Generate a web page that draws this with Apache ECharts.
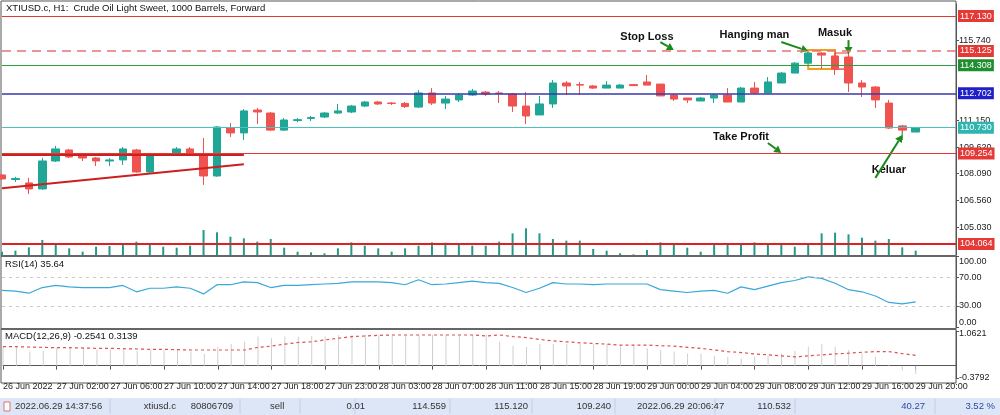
<!DOCTYPE html>
<html><head><meta charset="utf-8">
<script src="https://cdn.jsdelivr.net/npm/echarts@6/dist/echarts.min.js"></script>
<style>html,body{margin:0;padding:0;background:#fff}#c{width:1000px;height:415px}</style>
</head><body><div id="c"></div>
<script>
const tickLabels=['26 Jun 2022','27 Jun 02:00','27 Jun 06:00','27 Jun 10:00','27 Jun 14:00','27 Jun 18:00','27 Jun 23:00','28 Jun 03:00','28 Jun 07:00','28 Jun 11:00','28 Jun 15:00','28 Jun 19:00','29 Jun 00:00','29 Jun 04:00','29 Jun 08:00','29 Jun 12:00','29 Jun 16:00','29 Jun 20:00'];
const opens=[108.02,107.76,107.56,107.22,108.82,109.45,109.11,108.99,108.82,108.88,109.45,108.19,109.25,109.22,109.51,109.17,107.96,110.71,110.43,111.74,111.57,110.59,111.14,111.26,111.34,111.57,111.63,111.97,112.20,112.14,112.12,111.91,112.72,112.14,112.32,112.60,112.77,112.72,112.66,111.97,111.46,112.09,113.29,113.20,113.12,113.00,113.00,113.20,113.35,113.23,112.60,112.43,112.26,112.43,112.60,112.20,113.00,112.72,113.29,113.86,114.43,115.01,114.84,114.78,113.29,113.06,112.14,110.83,110.48];
const closes=[107.79,107.82,107.22,108.82,109.51,109.05,108.99,108.82,108.88,109.51,108.19,109.11,109.19,109.51,109.17,107.96,110.77,110.43,111.69,111.63,110.59,111.17,111.19,111.31,111.57,111.69,111.97,112.20,112.09,112.12,111.94,112.72,112.14,112.37,112.60,112.83,112.66,112.69,111.97,111.40,112.09,113.29,113.12,113.17,113.00,113.17,113.17,113.14,113.17,112.55,112.37,112.32,112.43,112.60,112.20,113.00,112.72,113.35,113.86,114.43,115.01,114.89,114.09,113.29,113.06,112.32,110.71,110.59,110.71];
const lows=[107.73,107.62,106.93,107.16,108.76,108.99,108.82,108.53,108.53,108.59,108.14,108.14,109.17,109.17,109.11,107.45,107.91,110.20,110.02,110.94,110.54,110.54,111.05,111.11,111.28,111.51,111.57,111.91,112.03,112.03,111.86,111.86,112.03,111.80,112.20,112.55,112.55,112.14,111.63,110.94,111.46,111.86,112.60,112.60,112.95,113.00,113.00,113.12,113.17,112.55,112.26,112.14,112.26,112.14,112.20,112.20,112.66,112.72,113.29,113.86,114.43,114.09,113.75,112.77,112.49,111.86,110.65,110.48,110.48];
const highs=[108.07,107.91,107.85,109.00,109.68,109.51,109.17,109.05,108.99,109.62,109.51,109.17,109.28,109.62,109.62,110.14,110.83,111.00,111.80,111.86,111.63,111.28,111.28,111.40,111.63,112.09,112.03,112.26,112.26,112.20,112.20,112.89,113.00,112.55,112.72,112.95,112.83,112.83,112.72,112.77,112.55,113.46,113.40,113.35,113.17,113.40,113.23,113.23,113.75,113.23,112.66,112.43,112.49,112.66,113.00,113.06,113.35,113.63,113.92,114.49,115.06,115.06,114.89,114.95,113.46,113.12,112.32,110.89,110.77];
const volumes=[10,13,23,45,30,20,10,25,27,35,40,30,25,22,28,75,68,55,50,40,48,22,10,8,5,20,38,28,20,10,20,28,38,37,30,28,28,40,65,80,65,48,43,43,18,13,5,2,15,38,30,22,10,30,35,35,38,30,30,25,35,65,67,62,52,43,48,23,13];
const rsi=[52,51,48,56,59,57,56,56,56,59,50,55,55,57,55,47,60,60,64,63,56,59,59,60,61,62,64,64,64,63,60,67,60,61,63,65,63,62,56,49,55,63,61,61,60,61,61,61,61,53,51,49,51,52,48,57,53,58,63,66,71,69,62,53,50,44,35,33,35.64];
const macdHist=[0.58,0.58,0.43,0.46,0.53,0.56,0.53,0.50,0.50,0.50,0.46,0.48,0.48,0.48,0.43,0.36,0.58,0.66,0.73,0.89,0.84,0.89,0.89,0.91,0.89,0.94,0.95,0.95,0.95,0.95,0.95,0.95,0.95,0.95,0.95,0.95,0.95,0.73,0.61,0.58,0.66,0.66,0.66,0.66,0.66,0.66,0.63,0.63,0.53,0.48,0.43,0.37,0.36,0.30,0.27,0.22,0.27,0.32,0.37,0.45,0.58,0.66,0.58,0.48,0.37,0.27,0.03,-0.15,-0.2541];
const macdSignal=[0.58,0.58,0.57,0.56,0.55,0.55,0.54,0.53,0.53,0.52,0.51,0.50,0.50,0.49,0.48,0.48,0.48,0.48,0.48,0.56,0.60,0.66,0.71,0.73,0.79,0.84,0.89,0.91,0.93,0.94,0.94,0.94,0.94,0.94,0.94,0.94,0.91,0.94,0.89,0.86,0.80,0.76,0.73,0.70,0.68,0.66,0.63,0.63,0.63,0.61,0.60,0.56,0.53,0.48,0.43,0.40,0.36,0.33,0.30,0.27,0.30,0.33,0.36,0.38,0.41,0.43,0.43,0.37,0.3139];
const priceTicks=[115.740,111.150,109.620,108.090,106.560,105.030];
const levels=[[117.130,'#e53935','solid',1],[115.125,'#e57373','dashed',1.5],[114.308,'#2e9e3e','solid',1],[112.702,'#3939b0','solid',1.5],[110.730,'#4cc2c0','solid',1],[109.254,'#e53935','solid',1],[104.064,'#e02020','solid',2]];
const labelBg={'117.130':'#e53935','115.125':'#e53935','114.308':'#1e8e2e','112.702':'#2020c8','110.730':'#2fb5b0','109.254':'#e53935','104.064':'#e53935'};
const trendLine=[[0,107.25],[18,108.63]];
const flatLine=[[0,109.17],[18,109.17]];
const notes=[['Stop Loss',48.1,115.93],['Hanging man',55.8,116.04],['Masuk',61.5,116.16],['Take Profit',55.1,110.20],['Keluar',65.9,108.30]];
const arrows=[[49.2,115.64,49.9,115.18],[58.1,115.64,60.0,115.12],[62.95,115.75,62.95,114.95],[57.1,109.85,58.0,109.28],[64.8,107.85,66.8,110.31]];
const boxes=[[60.0,115.18,62.05,114.09,'#f0a020'],[62.4,115.01,63.3,114.09,'#e53935'],[66.6,110.83,67.4,110.02,'#2e9e3e']];
const statusTexts=[['2022.06.29 14:37:56',15,'left','#333'],['xtiusd.c',176,'right','#333'],['80806709',233,'right','#333'],['sell',270,'left','#333'],['0.01',365,'right','#333'],['114.559',446,'right','#333'],['115.120',528,'right','#333'],['109.240',611,'right','#333'],['2022.06.29 20:06:47',637,'left','#333'],['110.532',791,'right','#333'],['40.27',925,'right','#2a4aa8'],['3.52 %',995,'right','#2a4aa8']];

const N=72;
const cats=Array.from({length:N},(_,i)=>String(i));
const ohlc=opens.map((o,i)=>[o,closes[i],lows[i],highs[i]]);
const chart=echarts.init(document.getElementById('c'));
const font='Liberation Sans, Arial, sans-serif';
const G=[{left:2,right:44,top:4,height:251},{left:2,right:44,top:215,height:40},{left:2,right:44,top:256.4,height:70.8},{left:2,right:44,top:331,height:47}];
const showIdx=(i)=>i%4===0 && i/4<tickLabels.length;
const xAxes=G.map((g,k)=>({type:'category',gridIndex:k,data:cats,boundaryGap:false,
  axisLine:{show:k===3,lineStyle:{color:'#555'}},
  axisTick:{show:k===3,interval:(i)=>showIdx(i),length:4,lineStyle:{color:'#555'}},
  axisLabel:{show:k===3,interval:(i)=>showIdx(i),formatter:(v,i)=>tickLabels[i/4]||'',align:'left',fontSize:9,color:'#222',fontFamily:font,margin:4},
  splitLine:{show:false}}));
const yBase={position:'right',axisLine:{show:true,lineStyle:{color:'#555'}},axisTick:{show:true,length:3,lineStyle:{color:'#555'}},splitLine:{show:false},axisLabel:{fontSize:9,color:'#222',fontFamily:font,margin:3}};
const rich={t:{fontSize:9,color:'#222',fontFamily:font,padding:[10,0,0,0]},b:{fontSize:9,color:'#222',fontFamily:font,padding:[0,0,10,0]},n:{fontSize:9,color:'#222',fontFamily:font}};
const yAxes=[
 Object.assign({},yBase,{gridIndex:0,min:103.43,max:117.82,axisLabel:Object.assign({},yBase.axisLabel,{customValues:priceTicks,formatter:v=>v.toFixed(3)}),axisTick:Object.assign({},yBase.axisTick,{customValues:priceTicks})}),
 {gridIndex:1,min:0,max:120,show:false},
 Object.assign({},yBase,{gridIndex:2,min:0,max:100,axisLabel:Object.assign({},yBase.axisLabel,{customValues:[0,30,70,100],rich:rich,formatter:v=>(v===100?'{t|':v===0?'{b|':'{n|')+v.toFixed(2)+'}'}),axisTick:Object.assign({},yBase.axisTick,{customValues:[0,30,70,100]})}),
 Object.assign({},yBase,{gridIndex:3,min:-0.3792,max:1.0621,axisLabel:Object.assign({},yBase.axisLabel,{customValues:[-0.3792,1.0621],rich:{t:{fontSize:9,color:'#222',fontFamily:font,padding:[6,0,0,0]},n:{fontSize:9,color:'#222',fontFamily:font}},formatter:v=>(v>1?'{t|':'{n|')+v.toFixed(4)+'}'}),axisTick:Object.assign({},yBase.axisTick,{customValues:[-0.3792,1.0621]})})
];
const levelLines=levels.map(l=>({yAxis:l[0],lineStyle:{color:l[1],type:l[2]==='dashed'?[9,6]:'solid',width:l[3]},
  label:{show:true,position:'end',distance:2,formatter:l[0].toFixed(3),backgroundColor:labelBg[l[0].toFixed(3)],color:'#fff',fontSize:9,fontFamily:font,padding:[2,2,1,2]}}));
const option={animation:false,backgroundColor:'#fff',grid:G,xAxis:xAxes,yAxis:yAxes,
 series:[
  {type:'candlestick',xAxisIndex:0,yAxisIndex:0,data:ohlc,barWidth:8,
   itemStyle:{color:'#1fa696',color0:'#f0534f',borderColor:'#1fa696',borderColor0:'#f0534f',borderWidth:1},
   markLine:{silent:true,symbol:'none',animation:false,data:levelLines.concat([
     [{coord:['0',trendLine[0][1]],lineStyle:{color:'#cc1f1f',width:2,type:'solid'},label:{show:false}},{coord:['18',trendLine[1][1]]}],
     [{coord:['0',flatLine[0][1]],lineStyle:{color:'#cc1f1f',width:2,type:'solid'},label:{show:false}},{coord:['18',flatLine[1][1]]}]
   ])}},
  {type:'bar',xAxisIndex:1,yAxisIndex:1,data:volumes,barWidth:2,itemStyle:{color:'#1f9a8c'}},
  {type:'line',xAxisIndex:2,yAxisIndex:2,data:rsi,symbol:'none',smooth:false,lineStyle:{color:'#3aa8d8',width:1.2},
   markLine:{silent:true,symbol:'none',label:{show:false},lineStyle:{color:'#d0c8c0',type:[3,4],width:1},data:[{yAxis:30},{yAxis:70}]}},
  {type:'bar',xAxisIndex:3,yAxisIndex:3,data:macdHist,barWidth:1,itemStyle:{color:'#cfcfcf'}},
  {type:'line',xAxisIndex:3,yAxisIndex:3,data:macdSignal,symbol:'none',lineStyle:{color:'#e05050',width:1.2,type:[3,3]}}
 ]};
chart.setOption(option);
const P=(c,p)=>chart.convertToPixel({gridIndex:0},[c,p]);
const gr=[];
gr.push({type:'rect',shape:{x:1,y:1,width:955,height:382},style:{fill:'none',stroke:'#555',lineWidth:1},silent:true});
gr.push({type:'line',shape:{x1:1,y1:256,x2:956,y2:256},style:{stroke:'#666',lineWidth:2}});
gr.push({type:'line',shape:{x1:1,y1:329,x2:956,y2:329},style:{stroke:'#666',lineWidth:2}});
gr.push({type:'text',x:6,y:3,style:{text:'XTIUSD.c, H1:  Crude Oil Light Sweet, 1000 Barrels, Forward',fontSize:9.5,fill:'#111',fontFamily:font}});
gr.push({type:'text',x:5,y:259,style:{text:'RSI(14) 35.64',fontSize:9.5,fill:'#111',fontFamily:font}});
gr.push({type:'text',x:5,y:331,style:{text:'MACD(12,26,9) -0.2541 0.3139',fontSize:9.5,fill:'#111',fontFamily:font}});
boxes.forEach(b=>{const a=P(b[0],b[1]),c=P(b[2],b[3]);gr.push({type:'rect',shape:{x:a[0],y:a[1],width:c[0]-a[0],height:c[1]-a[1]},style:{fill:'none',stroke:b[4],lineWidth:b[4]==='#f0a020'?2:1.2}});});
notes.forEach(n=>{const p=P(n[1],n[2]);gr.push({type:'text',x:p[0],y:p[1],style:{text:n[0],fontSize:11,fontWeight:'bold',fill:'#111',fontFamily:font,align:'center',verticalAlign:'middle'}});});
arrows.forEach(a=>{const s=P(a[0],a[1]),e=P(a[2],a[3]);const dx=e[0]-s[0],dy=e[1]-s[1],L=Math.hypot(dx,dy),ux=dx/L,uy=dy/L;const h=7,w=4;
 const bx=e[0]-ux*h,by=e[1]-uy*h;
 gr.push({type:'line',shape:{x1:s[0],y1:s[1],x2:bx,y2:by},style:{stroke:'#1a8a1a',lineWidth:2}});
 gr.push({type:'polygon',shape:{points:[[e[0],e[1]],[bx-uy*w,by+ux*w],[bx+uy*w,by-ux*w]]},style:{fill:'#1a8a1a'}});});
gr.push({type:'rect',shape:{x:0,y:398,width:1000,height:17},style:{fill:'#dde6f6'}});
[110,240,300,355,450,532,615,715,795,935].forEach(x=>gr.push({type:'line',shape:{x1:x,y1:399,x2:x,y2:414},style:{stroke:'#c4cde0',lineWidth:1}}));
gr.push({type:'rect',shape:{x:4,y:402,width:6,height:9},style:{fill:'#fff',stroke:'#e07070',lineWidth:1}});
statusTexts.forEach(t=>gr.push({type:'text',x:t[1],y:406.5,style:{text:t[0],fontSize:9.5,fill:t[3],align:t[2],verticalAlign:'middle',fontFamily:font}}));
chart.setOption({graphic:gr});
</script></body></html>
